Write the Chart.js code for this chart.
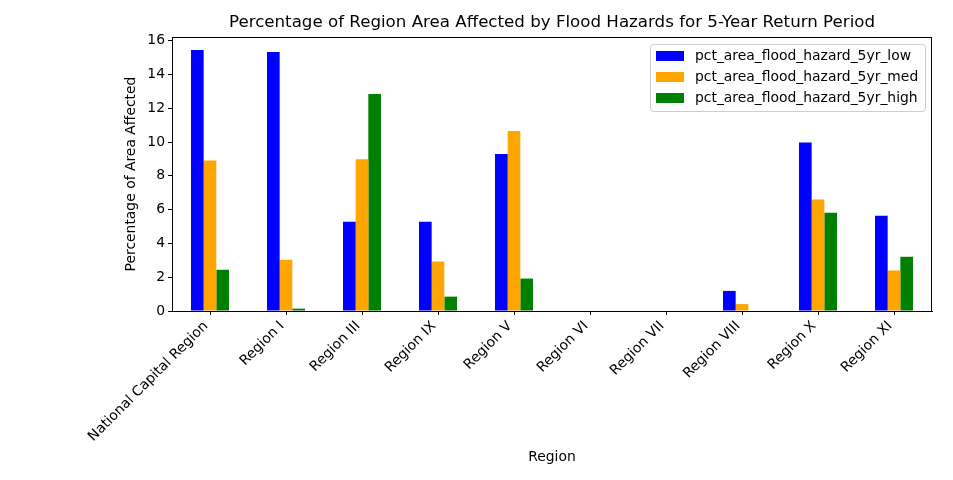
<!DOCTYPE html>
<html>
<head>
<meta charset="utf-8">
<script src="https://cdn.jsdelivr.net/npm/chart.js@4/dist/chart.umd.min.js"></script>
<style>
html,body{margin:0;padding:0;background:#fff;}
#c{display:block;}
</style>
</head>
<body>
<canvas id="c" width="953" height="480"></canvas>
<script>
const categories = ["National Capital Region","Region I","Region III","Region IX","Region V","Region VI","Region VII","Region VIII","Region X","Region XI"];
const lowValues  = [15.45, 15.33, 5.29, 5.29, 9.29, 0, 0, 1.19, 9.98, 5.64];
const medValues  = [8.91, 3.03, 8.99, 2.93, 10.65, 0, 0, 0.41, 6.60, 2.40];
const highValues = [2.44, 0.14, 12.85, 0.85, 1.92, 0, 0, 0, 5.82, 3.21];
const seriesNames = ["pct_area_flood_hazard_5yr_low","pct_area_flood_hazard_5yr_med","pct_area_flood_hazard_5yr_high"];
const yTicks = [0, 2, 4, 6, 8, 10, 12, 14, 16];

const FONT = "DejaVu Sans";
const colors = ["#0000ff", "#ffa500", "#008000"];

const decor = {
  id: 'decor',
  afterDraw(chart) {
    const ctx = chart.ctx;
    const a = chart.chartArea;
    ctx.save();
    // frame
    ctx.strokeStyle = '#000';
    ctx.lineWidth = 1;
    ctx.strokeRect(Math.round(a.left) + 0.5, Math.round(a.top) + 0.5, Math.round(a.right - a.left) - 1, Math.round(a.bottom - a.top));
    // title
    ctx.fillStyle = '#000';
    ctx.textAlign = 'center';
    ctx.textBaseline = 'middle';
    ctx.font = '16.67px "' + FONT + '"';
    ctx.fillText("Percentage of Region Area Affected by Flood Hazards for 5-Year Return Period", (a.left + a.right) / 2, 23);
    // axis titles
    ctx.font = '13.9px "' + FONT + '"';
    ctx.fillText("Region", (a.left + a.right) / 2, 457);
    ctx.save();
    ctx.translate(131, (a.top + a.bottom) / 2);
    ctx.rotate(-Math.PI / 2);
    ctx.fillText("Percentage of Area Affected", 0, 0);
    ctx.restore();
    // legend
    const lx = 650.5, ly = 44.5, lw = 275, lh = 67;
    ctx.beginPath();
    if (ctx.roundRect) ctx.roundRect(lx, ly, lw, lh, 3); else ctx.rect(lx, ly, lw, lh);
    ctx.fillStyle = 'rgba(255,255,255,0.8)';
    ctx.fill();
    ctx.strokeStyle = '#cccccc';
    ctx.stroke();
    ctx.textAlign = 'left';
    chart.data.datasets.forEach((ds, i) => {
      const cy = 56 + i * 21;
      ctx.fillStyle = ds.backgroundColor;
      ctx.fillRect(656, cy - 5, 28, 10);
      ctx.fillStyle = '#000';
      ctx.fillText(ds.label, 695, cy + 0.5);
    });
    ctx.restore();
  }
};

new Chart(document.getElementById('c'), {
  type: 'bar',
  data: {
    labels: categories,
    datasets: [
      { label: seriesNames[0], data: lowValues, backgroundColor: colors[0] },
      { label: seriesNames[1], data: medValues, backgroundColor: colors[1] },
      { label: seriesNames[2], data: highValues, backgroundColor: colors[2] }
    ]
  },
  options: {
    responsive: false,
    animation: false,
    devicePixelRatio: 1,
    layout: { padding: { top: 37, right: 21, left: 0, bottom: 0 } },
    datasets: { bar: { categoryPercentage: 0.5, barPercentage: 1.0, borderWidth: 0 } },
    plugins: { legend: { display: false }, title: { display: false }, tooltip: { enabled: false } },
    scales: {
      x: {
        offset: true,
        afterFit(s) { s.height = 169; },
        grid: { display: true, drawOnChartArea: false, drawTicks: true, tickLength: 4, color: '#000', offset: false },
        border: { display: true, color: '#000', width: 1 },
        ticks: { autoSkip: false, maxRotation: 45, minRotation: 45, labelOffset: -4, color: '#000', padding: 3, font: { family: FONT, size: 13.9 } }
      },
      y: {
        min: 0,
        max: 16.22,
        afterFit(s) { s.width = 172; },
        afterBuildTicks(s) { s.ticks = yTicks.map(v => ({ value: v })); },
        grid: { display: true, drawOnChartArea: false, drawTicks: true, tickLength: 4, color: '#000' },
        border: { display: true, color: '#000', width: 1 },
        ticks: { color: '#000', padding: 3, font: { family: FONT, size: 13.9 } }
      }
    }
  },
  plugins: [decor]
});
</script>
</body>
</html>
